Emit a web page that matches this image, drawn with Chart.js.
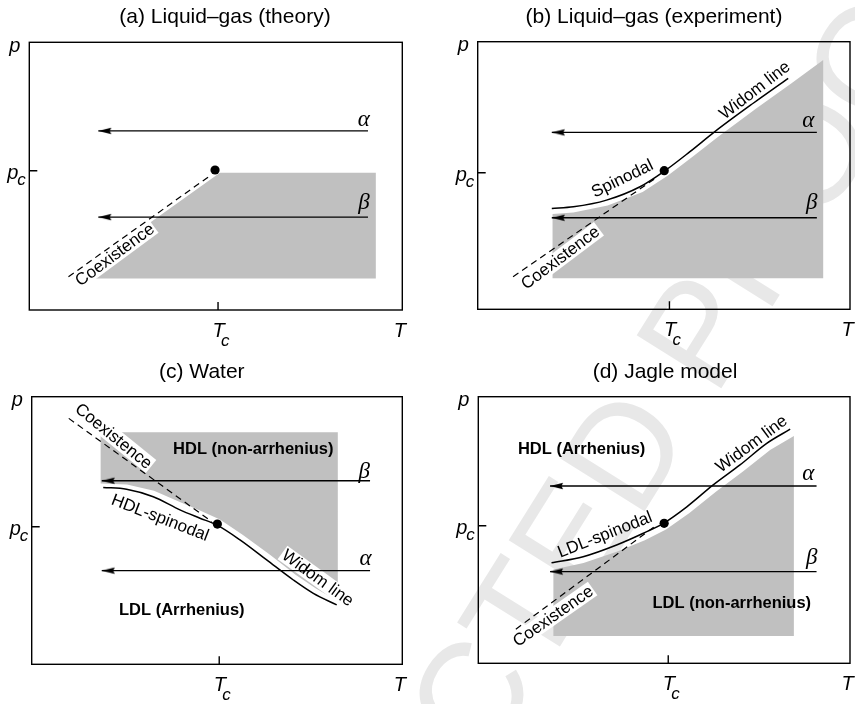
<!DOCTYPE html>
<html>
<head>
<meta charset="utf-8">
<script src="https://cdn.jsdelivr.net/npm/chart.js@4.4.1/dist/chart.umd.min.js"></script>
<style>
  html, body { margin: 0; padding: 0; background: #fff; }
  #wrap { position: relative; width: 855px; height: 704px; overflow: hidden; }
  #wrap canvas { position: absolute; left: 0; top: 0; }
</style>
</head>
<body>
<div id="wrap">
  <canvas id="wm" width="855" height="704"></canvas>
  <canvas id="pa" width="855" height="704"></canvas>
  <canvas id="pb" width="855" height="704"></canvas>
  <canvas id="pc" width="855" height="704"></canvas>
  <canvas id="pd" width="855" height="704"></canvas>
</div>
<script>
// ---------- schematic phase diagrams, reduced units (T and p run 0..1 inside each frame) ----------

// (a) Liquid–gas (theory)
const aTc = 0.506, aPc = 0.520;
const aCritical = [{ x: 0.498, y: 0.523 }];
const aCoexistence = [{ x: 0.105, y: 0.124 }, { x: 0.480, y: 0.497 }];
const aRegion = [{ x: 0.511, y: 0.513 }, { x: 0.929, y: 0.513 }, { x: 0.929, y: 0.118 }, { x: 0.114, y: 0.118 }];
const aAlpha = [{ x: 0.908, y: 0.669 }, { x: 0.185, y: 0.669 }];
const aBeta = [{ x: 0.908, y: 0.347 }, { x: 0.185, y: 0.347 }];

// (b) Liquid–gas (experiment)
const bTc = 0.515, bPc = 0.510;
const bCritical = [{ x: 0.501, y: 0.518 }];
const bCoexistence = [{ x: 0.095, y: 0.122 }, { x: 0.484, y: 0.496 }];
const bSpinodalWidom = [
  { x: 0.199, y: 0.377 }, { x: 0.257, y: 0.383 }, { x: 0.346, y: 0.408 }, { x: 0.436, y: 0.458 },
  { x: 0.503, y: 0.518 }, { x: 0.570, y: 0.589 }, { x: 0.637, y: 0.664 }, { x: 0.740, y: 0.770 },
  { x: 0.834, y: 0.863 }
];
const bRegion = [
  { x: 0.201, y: 0.356 }, { x: 0.257, y: 0.362 }, { x: 0.349, y: 0.388 }, { x: 0.443, y: 0.438 },
  { x: 0.511, y: 0.500 }, { x: 0.578, y: 0.571 }, { x: 0.645, y: 0.644 }, { x: 0.748, y: 0.750 },
  { x: 0.842, y: 0.844 }, { x: 0.928, y: 0.932 }, { x: 0.928, y: 0.116 }, { x: 0.201, y: 0.116 }
];
const bAlpha = [{ x: 0.911, y: 0.661 }, { x: 0.199, y: 0.661 }];
const bBeta = [{ x: 0.911, y: 0.342 }, { x: 0.199, y: 0.342 }];

// (c) Water
const cTc = 0.506, cPc = 0.514;
const cCritical = [{ x: 0.501, y: 0.524 }];
const cCoexistence = [{ x: 0.100, y: 0.919 }, { x: 0.486, y: 0.533 }];
const cSpinodalWidom = [
  { x: 0.193, y: 0.661 }, { x: 0.256, y: 0.654 }, { x: 0.328, y: 0.626 }, { x: 0.400, y: 0.577 },
  { x: 0.454, y: 0.546 }, { x: 0.499, y: 0.521 }, { x: 0.562, y: 0.465 }, { x: 0.634, y: 0.390 },
  { x: 0.706, y: 0.315 }, { x: 0.760, y: 0.265 }, { x: 0.823, y: 0.222 }
];
const cRegion = [
  { x: 0.186, y: 0.867 }, { x: 0.826, y: 0.867 }, { x: 0.826, y: 0.237 }, { x: 0.767, y: 0.283 },
  { x: 0.713, y: 0.334 }, { x: 0.643, y: 0.409 }, { x: 0.570, y: 0.483 }, { x: 0.508, y: 0.541 },
  { x: 0.460, y: 0.571 }, { x: 0.406, y: 0.603 }, { x: 0.330, y: 0.649 }, { x: 0.257, y: 0.672 },
  { x: 0.186, y: 0.676 }
];
const cBeta = [{ x: 0.913, y: 0.686 }, { x: 0.189, y: 0.686 }];
const cAlpha = [{ x: 0.913, y: 0.350 }, { x: 0.189, y: 0.350 }];

// (d) Jagle model
const dTc = 0.511, dPc = 0.516;
const dCritical = [{ x: 0.500, y: 0.525 }];
const dCoexistence = [{ x: 0.101, y: 0.128 }, { x: 0.480, y: 0.519 }];
const dSpinodalWidom = [
  { x: 0.197, y: 0.377 }, { x: 0.282, y: 0.400 }, { x: 0.372, y: 0.444 }, { x: 0.444, y: 0.488 },
  { x: 0.498, y: 0.525 }, { x: 0.561, y: 0.587 }, { x: 0.632, y: 0.669 }, { x: 0.704, y: 0.744 },
  { x: 0.776, y: 0.825 }, { x: 0.839, y: 0.878 }
];
const dRegion = [
  { x: 0.202, y: 0.352 }, { x: 0.283, y: 0.376 }, { x: 0.374, y: 0.419 }, { x: 0.448, y: 0.462 },
  { x: 0.505, y: 0.502 }, { x: 0.568, y: 0.564 }, { x: 0.640, y: 0.644 }, { x: 0.712, y: 0.719 },
  { x: 0.785, y: 0.800 }, { x: 0.849, y: 0.853 }, { x: 0.849, y: 0.102 }, { x: 0.202, y: 0.102 }
];
const dAlpha = [{ x: 0.910, y: 0.665 }, { x: 0.193, y: 0.665 }];
const dBeta = [{ x: 0.910, y: 0.344 }, { x: 0.193, y: 0.344 }];

// ---------- annotations ----------
const aNotes = [{ text: 'Coexistence', x: 0.230, y: 0.205, angle: 36.5, backed: true }];
const aGreek = [{ text: 'α', x: 0.897, y: 0.686 }, { text: 'β', x: 0.897, y: 0.377 }];

const bNotes = [
  { text: 'Coexistence', x: 0.223, y: 0.191, angle: 37, backed: true },
  { text: 'Spinodal', x: 0.389, y: 0.487, angle: 26 },
  { text: 'Widom line', x: 0.745, y: 0.817, angle: 37.5 }
];
const bGreek = [{ text: 'α', x: 0.888, y: 0.682 }, { text: 'β', x: 0.897, y: 0.375 }];

const cNotes = [
  { text: 'Coexistence', x: 0.220, y: 0.851, angle: -39, backed: true },
  { text: 'HDL-spinodal', x: 0.346, y: 0.546, angle: -21 },
  { text: 'Widom line', x: 0.771, y: 0.321, angle: -36, backed: true }
];
const cPhases = [
  { text: 'HDL (non-arrhenius)', x: 0.598, y: 0.803 },
  { text: 'LDL (Arrhenius)', x: 0.405, y: 0.203 }
];
const cGreek = [{ text: 'β', x: 0.897, y: 0.698 }, { text: 'α', x: 0.901, y: 0.371 }];

const dNotes = [
  { text: 'Coexistence', x: 0.202, y: 0.175, angle: 35, backed: true },
  { text: 'LDL-spinodal', x: 0.341, y: 0.481, angle: 21.5 },
  { text: 'Widom line', x: 0.736, y: 0.822, angle: 36.5 }
];
const dPhases = [
  { text: 'HDL (Arrhenius)', x: 0.278, y: 0.803 },
  { text: 'LDL (non-arrhenius)', x: 0.682, y: 0.225 }
];
const dGreek = [{ text: 'α', x: 0.888, y: 0.688 }, { text: 'β', x: 0.897, y: 0.371 }];

// ---------- styling ----------
const W = 855, H = 704;
const SANS = '"Liberation Sans", Arial, Helvetica, sans-serif';
const SERIF = '"Liberation Serif", "Times New Roman", serif';
const SHADE = '#c0c0c0';
const INK = '#000';

// watermark stamped across the sheet, behind the panels
(function stamp() {
  const g = document.getElementById('wm').getContext('2d');
  const size = 145;
  g.save();
  g.font = size + 'px ' + SANS;
  g.fillStyle = '#e8e8e8';
  const lead = g.measureText('UNCORRE').width + g.measureText('C').width / 2;
  g.translate(468, 695);
  g.rotate(-58 * Math.PI / 180);
  g.textBaseline = 'alphabetic';
  g.textAlign = 'left';
  g.fillText('UNCORRECTED PROOF', -lead, 0.36 * size);
  g.restore();
})();

// arrowhead used as the point style at the tip of each path arrow (tip at the image centre)
const arrowTip = (function () {
  const c = document.createElement('canvas');
  c.width = 28; c.height = 10;
  const g = c.getContext('2d');
  g.fillStyle = INK;
  g.beginPath();
  g.moveTo(14, 5); g.lineTo(27, 1.8); g.lineTo(25.5, 5); g.lineTo(27, 8.2);
  g.closePath(); g.fill();
  return c;
})();

function closed(pts) { return pts.concat([pts[0]]); }

function regionSet(pts) {
  return {
    data: closed(pts), fill: 'shape', backgroundColor: SHADE,
    borderColor: 'rgba(0,0,0,0)', borderWidth: 0, pointRadius: 0, tension: 0, order: 10
  };
}
function dashedSet(pts) {
  return {
    data: pts, fill: false, borderColor: INK, borderWidth: 1.2, borderDash: [6.5, 4.5],
    pointRadius: 0, tension: 0, order: 4
  };
}
function curveSet(pts) {
  return {
    data: pts, fill: false, borderColor: INK, borderWidth: 1.5,
    cubicInterpolationMode: 'monotone', pointRadius: 0, order: 3
  };
}
function arrowSet(pts) {
  const last = pts.length - 1;
  return {
    data: pts, fill: false, borderColor: INK, borderWidth: 1.4, tension: 0,
    pointStyle: c => (c.dataIndex === last ? arrowTip : 'circle'),
    pointRadius: c => (c.dataIndex === last ? 4 : 0),
    pointBackgroundColor: INK, pointBorderWidth: 0, order: 2
  };
}
function dotSet(pts) {
  return {
    data: pts, showLine: false, pointRadius: 4.6, pointBackgroundColor: INK,
    pointBorderWidth: 0, order: 1
  };
}

function panelArt(spec) {
  return {
    id: 'panelArt',
    // label backings cut the shading, then the lines go over them
    afterDatasetDraw(chart, args) {
      if (args.index !== 0) return;
      const ctx = chart.ctx, xs = chart.scales.x, ys = chart.scales.y;
      const fs = 17;
      ctx.save();
      ctx.font = fs + 'px ' + SANS;
      ctx.fillStyle = '#fff';
      (spec.notes || []).filter(n => n.backed).forEach(n => {
        const w = ctx.measureText(n.text).width;
        ctx.save();
        ctx.translate(xs.getPixelForValue(n.x), ys.getPixelForValue(n.y));
        ctx.rotate(-n.angle * Math.PI / 180);
        ctx.fillRect(-w / 2 - 1.5, -0.52 * fs, w + 3, 0.98 * fs);
        ctx.restore();
      });
      ctx.restore();
    },
    afterDatasetsDraw(chart) {
      const ctx = chart.ctx, ca = chart.chartArea, xs = chart.scales.x, ys = chart.scales.y;
      ctx.save();
      // frame and the two inward ticks
      ctx.strokeStyle = INK;
      ctx.lineWidth = 1.4;
      ctx.strokeRect(ca.left, ca.top, ca.right - ca.left, ca.bottom - ca.top);
      const xt = xs.getPixelForValue(spec.Tc), yp = ys.getPixelForValue(spec.pc);
      ctx.beginPath();
      ctx.moveTo(xt, ca.bottom); ctx.lineTo(xt, ca.bottom - 8);
      ctx.moveTo(ca.left, yp); ctx.lineTo(ca.left + 8, yp);
      ctx.stroke();

      ctx.fillStyle = INK;
      // panel title
      ctx.font = '21px ' + SANS;
      ctx.textAlign = 'center';
      ctx.textBaseline = 'middle';
      ctx.fillText(spec.title, spec.titleX, spec.titleY);

      // axis symbols
      ctx.textBaseline = 'alphabetic';
      ctx.font = 'italic 20px ' + SANS;
      ctx.textAlign = 'center';
      ctx.fillText('p', ca.left - 14.5, ca.top + 9.5);
      ctx.fillText('T', ca.right - 2.5, ca.bottom + 26.7);
      ctx.textAlign = 'left';
      ctx.fillText('p', ca.left - 22, yp + 8);
      ctx.fillText('T', xt - 5.5, ca.bottom + 26.7);
      ctx.font = 'italic 17px ' + SANS;
      ctx.fillText('c', ca.left - 12, yp + 14);
      ctx.fillText('c', xt + 3, ca.bottom + 35.5);

      // curve names
      ctx.font = '17px ' + SANS;
      ctx.textAlign = 'center';
      ctx.textBaseline = 'middle';
      (spec.notes || []).forEach(n => {
        ctx.save();
        ctx.translate(xs.getPixelForValue(n.x), ys.getPixelForValue(n.y));
        ctx.rotate(-n.angle * Math.PI / 180);
        ctx.fillText(n.text, 0, 0);
        ctx.restore();
      });

      // phase names
      ctx.font = 'bold 16.5px ' + SANS;
      (spec.phases || []).forEach(n => {
        ctx.fillText(n.text, xs.getPixelForValue(n.x), ys.getPixelForValue(n.y));
      });

      // path symbols
      ctx.font = 'italic 23px ' + SERIF;
      ctx.textBaseline = 'alphabetic';
      (spec.greek || []).forEach(n => {
        ctx.fillText(n.text, xs.getPixelForValue(n.x), ys.getPixelForValue(n.y));
      });
      ctx.restore();
    }
  };
}

function makePanel(id, box, spec, datasets) {
  return new Chart(document.getElementById(id), {
    type: 'line',
    data: { datasets },
    options: {
      responsive: false,
      animation: false,
      events: [],
      layout: { padding: { left: box.left, top: box.top, right: W - box.right, bottom: H - box.bottom } },
      plugins: { legend: { display: false }, tooltip: { enabled: false }, title: { display: false } },
      scales: {
        x: { type: 'linear', min: 0, max: 1, display: false },
        y: { type: 'linear', min: 0, max: 1, display: false }
      }
    },
    plugins: [panelArt(spec)]
  });
}

makePanel('pa', { left: 29.3, top: 42.3, right: 402.3, bottom: 310 },
  { title: '(a) Liquid–gas (theory)', titleX: 225, titleY: 17.5, Tc: aTc, pc: aPc, notes: aNotes, greek: aGreek },
  [regionSet(aRegion), dashedSet(aCoexistence), arrowSet(aAlpha), arrowSet(aBeta), dotSet(aCritical)]);

makePanel('pb', { left: 477.7, top: 41.7, right: 850, bottom: 309.3 },
  { title: '(b) Liquid–gas (experiment)', titleX: 654, titleY: 17.5, Tc: bTc, pc: bPc, notes: bNotes, greek: bGreek },
  [regionSet(bRegion), dashedSet(bCoexistence), curveSet(bSpinodalWidom), arrowSet(bAlpha), arrowSet(bBeta), dotSet(bCritical)]);

makePanel('pc', { left: 31.7, top: 396.7, right: 402.3, bottom: 664.3 },
  { title: '(c) Water', titleX: 201.8, titleY: 372.7, Tc: cTc, pc: cPc, notes: cNotes, phases: cPhases, greek: cGreek },
  [regionSet(cRegion), dashedSet(cCoexistence), curveSet(cSpinodalWidom), arrowSet(cBeta), arrowSet(cAlpha), dotSet(cCritical)]);

makePanel('pd', { left: 478.3, top: 396.7, right: 850, bottom: 663.3 },
  { title: '(d) Jagle model', titleX: 665, titleY: 372.7, Tc: dTc, pc: dPc, notes: dNotes, phases: dPhases, greek: dGreek },
  [regionSet(dRegion), dashedSet(dCoexistence), curveSet(dSpinodalWidom), arrowSet(dAlpha), arrowSet(dBeta), dotSet(dCritical)]);
</script>
</body>
</html>
